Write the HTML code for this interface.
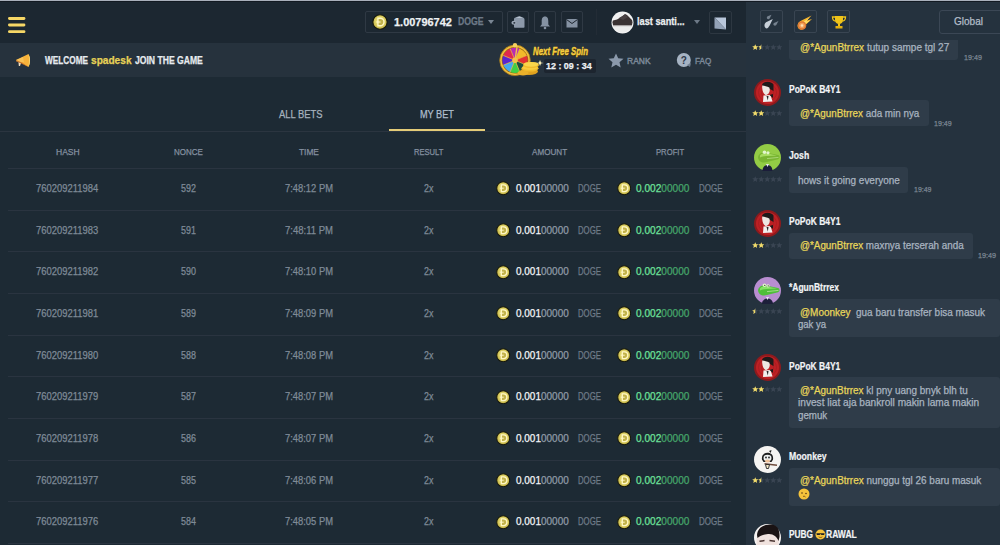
<!DOCTYPE html>
<html><head><meta charset="utf-8">
<style>
*{margin:0;padding:0;box-sizing:border-box}
html,body{width:1000px;height:545px;overflow:hidden;background:#1d2a34;font-family:"Liberation Sans",sans-serif}
.a{position:absolute}
.t{position:absolute;white-space:nowrap;line-height:1;transform-origin:0 0;-webkit-text-stroke-width:0.25px}
</style></head><body>
<div class="a" style="left:0;top:0;width:1000px;height:1px;background:#a9b0bb"></div>
<div class="a" style="left:0;top:1px;width:1000px;height:1px;background:#131a22"></div>
<div class="a" style="left:0;top:2px;width:746px;height:41px;background:#1c2731"></div>
<div class="a" style="left:0;top:43px;width:746px;height:34px;background:#26323d"></div>
<div class="a" style="left:746px;top:2px;width:254px;height:543px;background:#25323e"></div>
<svg class="a" style="left:0;top:0" width="40" height="40" viewBox="0 0 40 40"><rect x="8" y="17" width="17.4" height="2.9" rx="1.4" fill="#f6d766"/><rect x="8" y="23.6" width="17.4" height="2.9" rx="1.4" fill="#f6d766"/><rect x="8" y="30.2" width="17.4" height="2.9" rx="1.4" fill="#f6d766"/></svg>
<div class="a" style="left:365px;top:11px;width:138px;height:22px;border:1px solid #2f3944;border-radius:2px"></div>
<svg class="a" style="left:372.00px;top:14.00px" width="16.00" height="16.00" viewBox="-7 -7 14 14"><defs><radialGradient id="cg" cx="50%" cy="45%" r="55%"><stop offset="0" stop-color="#f1e89e"/><stop offset="0.6" stop-color="#dccf62"/><stop offset="1" stop-color="#bfae40"/></radialGradient></defs><circle r="6.3" fill="url(#cg)" stroke="#17190d" stroke-width="1"/><path d="M-1.8 -3.3 L0.2 -3.3 A3.3 3.3 0 0 1 0.2 3.3 L-1.8 3.3 Z" fill="#c2b24a" stroke="#fff7c4" stroke-width="1.2"/><path d="M-3.3 0 L0.5 0" stroke="#fff7c4" stroke-width="1"/></svg>
<div class="a" style="left:488px;top:20px;width:0;height:0;border-left:3.5px solid transparent;border-right:3.5px solid transparent;border-top:4px solid #7a8694"></div>
<div class="a" style="left:507px;top:11px;width:22px;height:22px;border:1px solid #2f3944;border-radius:2px"></div>
<div class="a" style="left:534px;top:11px;width:22px;height:22px;border:1px solid #2f3944;border-radius:2px"></div>
<div class="a" style="left:561px;top:11px;width:22px;height:22px;border:1px solid #2f3944;border-radius:2px"></div>
<svg class="a" style="left:510px;top:14px" width="16" height="16" viewBox="0 0 16 16"><path d="M4 5 Q4 3.5 5.5 3.5 L8 2.5 Q9 2 10.5 2.5 L13.5 3.8 Q14.5 4.5 14.5 5.5 L14.5 13 Q14.5 13.8 13.7 13.8 L4.8 13.8 Q4 13.8 4 13 Z" fill="#8c98a9"/><path d="M5.5 4 L9.5 2.6 L13 4Z" fill="#b8c3d0"/><ellipse cx="4" cy="8.8" rx="2.6" ry="2" fill="#9aa5b4"/><ellipse cx="4.3" cy="8.8" rx="1.1" ry="0.9" fill="#2a3440"/></svg>
<svg class="a" style="left:537px;top:14px" width="16" height="17" viewBox="0 0 16 17"><path d="M8 2.5 C5.2 2.5 4.7 5 4.7 7.5 L4.7 10.5 L3 12.5 L13 12.5 L11.3 10.5 L11.3 7.5 C11.3 5 10.8 2.5 8 2.5Z" fill="#8592a3"/><circle cx="8" cy="14" r="1.3" fill="#8592a3"/></svg>
<svg class="a" style="left:564px;top:14px" width="16" height="17" viewBox="0 0 16 17"><rect x="2.5" y="5" width="11" height="8.5" fill="#8592a3"/><path d="M2.5 5.5 L8 9.5 L13.5 5.5" stroke="#1e2630" stroke-width="1" fill="none"/></svg>
<div class="a" style="left:596px;top:9px;width:1px;height:26px;background:#232c36"></div>
<svg class="a" style="left:611px;top:10.5px" width="23" height="23" viewBox="0 0 23 23"><defs><clipPath id="hav"><circle cx="11.5" cy="11.5" r="10"/></clipPath></defs><circle cx="11.5" cy="11.5" r="11" fill="#f4f4f4"/><g clip-path="url(#hav)"><rect x="0" y="0" width="23" height="23" fill="#f0f0f0"/><path d="M0 10 L6 8.5 L11 5.5 L14 3 L16 4 L18 6 L21 9 L23 10 L23 14.5 L0 14.5 Z" fill="#3a3233"/><path d="M8 7 L14 3.5 L17 6 L12 9Z" fill="#4a4244"/><rect x="0" y="14.5" width="23" height="1" fill="#b9b4b4"/><rect x="0" y="15.5" width="23" height="8" fill="#ececec"/></g></svg>
<div class="a" style="left:693.5px;top:19.5px;width:0;height:0;border-left:3.5px solid transparent;border-right:3.5px solid transparent;border-top:4px solid #6d7987"></div>
<div class="a" style="left:709px;top:11px;width:23px;height:23px;border:1px solid #2d3741;border-radius:2px"></div>
<svg class="a" style="left:714px;top:16.5px" width="13" height="13" viewBox="0 0 13 13"><path d="M0.5 0.5 L12 0.5 L12 12.5 Z" fill="#b8c6da"/><path d="M0.5 0.5 L12 12.5 L0.5 11.5 Z" fill="#93a2b7"/></svg>
<svg class="a" style="left:15px;top:53px" width="17" height="15" viewBox="0 0 17 15"><path d="M1 7 L13.5 1 Q16.5 7 13.5 14 Z" fill="#f7b23a"/><path d="M13.5 1 Q16.5 7 13.5 14 Q15 7 13.5 1Z" fill="#fde07a"/><path d="M1 7 L8 4 L9 9.5 L1.5 8.5Z" fill="#fbcf6a" opacity="0.6"/><path d="M3.5 9 L6 10 L5 13 L3.8 13Z" fill="#f3e0c0"/><path d="M1 7 L1.5 8.5 L13.5 14 L7 9.5Z" fill="#d9701f" opacity="0.7"/></svg>
<svg class="a" style="left:496px;top:42px" width="50" height="38" viewBox="0 0 50 38">
<circle cx="19" cy="18.3" r="15.3" fill="#f0c040"/><circle cx="19" cy="18.3" r="15.3" fill="none" stroke="#a87a18" stroke-width="0.8"/>
<circle cx="19" cy="18.3" r="13.2" fill="#9a6a10"/>
<path d="M19 18.3 L14.18 6.66 A12.6 12.6 0 0 1 23.82 6.66Z" fill="#b82ab4"/><path d="M19 18.3 L23.82 6.66 A12.6 12.6 0 0 1 30.64 13.48Z" fill="#f2b92a"/><path d="M19 18.3 L30.64 13.48 A12.6 12.6 0 0 1 30.64 23.12Z" fill="#e23232"/><path d="M19 18.3 L30.64 23.12 A12.6 12.6 0 0 1 23.82 29.94Z" fill="#1e4f3f"/><path d="M19 18.3 L23.82 29.94 A12.6 12.6 0 0 1 14.18 29.94Z" fill="#3fcf45"/><path d="M19 18.3 L14.18 29.94 A12.6 12.6 0 0 1 7.36 23.12Z" fill="#42a9ef"/><path d="M19 18.3 L7.36 23.12 A12.6 12.6 0 0 1 7.36 13.48Z" fill="#5a24cf"/><path d="M19 18.3 L7.36 13.48 A12.6 12.6 0 0 1 14.18 6.66Z" fill="#e0284e"/><path d="M19 18.3 L14.18 6.66" stroke="#f0c24a" stroke-width="0.7"/><path d="M19 18.3 L23.82 6.66" stroke="#f0c24a" stroke-width="0.7"/><path d="M19 18.3 L30.64 13.48" stroke="#f0c24a" stroke-width="0.7"/><path d="M19 18.3 L30.64 23.12" stroke="#f0c24a" stroke-width="0.7"/><path d="M19 18.3 L23.82 29.94" stroke="#f0c24a" stroke-width="0.7"/><path d="M19 18.3 L14.18 29.94" stroke="#f0c24a" stroke-width="0.7"/><path d="M19 18.3 L7.36 23.12" stroke="#f0c24a" stroke-width="0.7"/><path d="M19 18.3 L7.36 13.48" stroke="#f0c24a" stroke-width="0.7"/>
<circle cx="19" cy="18.3" r="2.8" fill="#f2c24a"/>
<path d="M19 18.3 L21 5" stroke="#f2c24a" stroke-width="1.4"/>
<circle cx="19" cy="3.3" r="2.2" fill="#f5d060"/>
<ellipse cx="33" cy="29.5" rx="9" ry="3.4" fill="#e0a21e"/>
<ellipse cx="34" cy="26.3" rx="8.5" ry="3.3" fill="#f2bc2c"/><ellipse cx="34" cy="25.6" rx="7.6" ry="2.5" fill="#f9cd3e"/>
<ellipse cx="35" cy="23" rx="8" ry="3.1" fill="#f2bc2c"/><ellipse cx="35" cy="22.3" rx="7.2" ry="2.4" fill="#fbd64a"/>
<ellipse cx="27" cy="31" rx="5.5" ry="2.6" fill="#eab02a"/>
<path d="M44 18 L45 20.5 L47.5 21 L45 21.5 L44 24 L43 21.5 L40.5 21 L43 20.5Z" fill="#fff4b8"/>
</svg>
<div class="a" style="left:544px;top:59px;width:52px;height:14px;background:#1d252f;border-radius:2px"></div>
<svg class="a" style="left:608px;top:53px" width="16" height="15" viewBox="0 0 16 15"><path d="M8 0.5 L10.2 5.3 L15.5 5.8 L11.5 9.3 L12.7 14.5 L8 11.8 L3.3 14.5 L4.5 9.3 L0.5 5.8 L5.8 5.3Z" fill="#8b99ab"/></svg>
<svg class="a" style="left:676px;top:52px" width="16" height="16" viewBox="0 0 16 16"><circle cx="7.8" cy="8" r="7" fill="#a6b3c3"/><path d="M11 13 L15 11 L14 15Z" fill="#6f7d8e"/><text x="7.8" y="11.8" font-family="Liberation Sans" font-weight="bold" font-size="10" text-anchor="middle" fill="#2d3846">?</text></svg>
<div class="a" style="left:0;top:131px;width:746px;height:1px;background:#2b3540"></div>
<div class="a" style="left:389px;top:128.5px;width:96px;height:2.5px;background:#e4cc78"></div>
<div class="a" style="left:8px;top:168px;width:723px;height:1px;background:#2a3440"></div>
<div class="a" style="left:8px;top:209.67px;width:723px;height:1px;background:#2a3440"></div>
<div class="a" style="left:8px;top:251.34px;width:723px;height:1px;background:#2a3440"></div>
<div class="a" style="left:8px;top:293.01px;width:723px;height:1px;background:#2a3440"></div>
<div class="a" style="left:8px;top:334.68px;width:723px;height:1px;background:#2a3440"></div>
<div class="a" style="left:8px;top:376.35px;width:723px;height:1px;background:#2a3440"></div>
<div class="a" style="left:8px;top:418.02px;width:723px;height:1px;background:#2a3440"></div>
<div class="a" style="left:8px;top:459.69px;width:723px;height:1px;background:#2a3440"></div>
<div class="a" style="left:8px;top:501.36px;width:723px;height:1px;background:#2a3440"></div>
<div class="a" style="left:8px;top:543.03px;width:723px;height:1px;background:#2a3440"></div>
<svg class="a" style="left:496.20px;top:181.20px" width="14.40" height="14.40" viewBox="-7 -7 14 14"><defs><radialGradient id="cg" cx="50%" cy="45%" r="55%"><stop offset="0" stop-color="#f1e89e"/><stop offset="0.6" stop-color="#dccf62"/><stop offset="1" stop-color="#bfae40"/></radialGradient></defs><circle r="6.3" fill="url(#cg)" stroke="#17190d" stroke-width="1"/><path d="M-1.8 -3.3 L0.2 -3.3 A3.3 3.3 0 0 1 0.2 3.3 L-1.8 3.3 Z" fill="#c2b24a" stroke="#fff7c4" stroke-width="1.2"/><path d="M-3.3 0 L0.5 0" stroke="#fff7c4" stroke-width="1"/></svg>
<svg class="a" style="left:616.60px;top:181.20px" width="14.40" height="14.40" viewBox="-7 -7 14 14"><defs><radialGradient id="cg" cx="50%" cy="45%" r="55%"><stop offset="0" stop-color="#f1e89e"/><stop offset="0.6" stop-color="#dccf62"/><stop offset="1" stop-color="#bfae40"/></radialGradient></defs><circle r="6.3" fill="url(#cg)" stroke="#17190d" stroke-width="1"/><path d="M-1.8 -3.3 L0.2 -3.3 A3.3 3.3 0 0 1 0.2 3.3 L-1.8 3.3 Z" fill="#c2b24a" stroke="#fff7c4" stroke-width="1.2"/><path d="M-3.3 0 L0.5 0" stroke="#fff7c4" stroke-width="1"/></svg>
<svg class="a" style="left:496.20px;top:222.87px" width="14.40" height="14.40" viewBox="-7 -7 14 14"><defs><radialGradient id="cg" cx="50%" cy="45%" r="55%"><stop offset="0" stop-color="#f1e89e"/><stop offset="0.6" stop-color="#dccf62"/><stop offset="1" stop-color="#bfae40"/></radialGradient></defs><circle r="6.3" fill="url(#cg)" stroke="#17190d" stroke-width="1"/><path d="M-1.8 -3.3 L0.2 -3.3 A3.3 3.3 0 0 1 0.2 3.3 L-1.8 3.3 Z" fill="#c2b24a" stroke="#fff7c4" stroke-width="1.2"/><path d="M-3.3 0 L0.5 0" stroke="#fff7c4" stroke-width="1"/></svg>
<svg class="a" style="left:616.60px;top:222.87px" width="14.40" height="14.40" viewBox="-7 -7 14 14"><defs><radialGradient id="cg" cx="50%" cy="45%" r="55%"><stop offset="0" stop-color="#f1e89e"/><stop offset="0.6" stop-color="#dccf62"/><stop offset="1" stop-color="#bfae40"/></radialGradient></defs><circle r="6.3" fill="url(#cg)" stroke="#17190d" stroke-width="1"/><path d="M-1.8 -3.3 L0.2 -3.3 A3.3 3.3 0 0 1 0.2 3.3 L-1.8 3.3 Z" fill="#c2b24a" stroke="#fff7c4" stroke-width="1.2"/><path d="M-3.3 0 L0.5 0" stroke="#fff7c4" stroke-width="1"/></svg>
<svg class="a" style="left:496.20px;top:264.54px" width="14.40" height="14.40" viewBox="-7 -7 14 14"><defs><radialGradient id="cg" cx="50%" cy="45%" r="55%"><stop offset="0" stop-color="#f1e89e"/><stop offset="0.6" stop-color="#dccf62"/><stop offset="1" stop-color="#bfae40"/></radialGradient></defs><circle r="6.3" fill="url(#cg)" stroke="#17190d" stroke-width="1"/><path d="M-1.8 -3.3 L0.2 -3.3 A3.3 3.3 0 0 1 0.2 3.3 L-1.8 3.3 Z" fill="#c2b24a" stroke="#fff7c4" stroke-width="1.2"/><path d="M-3.3 0 L0.5 0" stroke="#fff7c4" stroke-width="1"/></svg>
<svg class="a" style="left:616.60px;top:264.54px" width="14.40" height="14.40" viewBox="-7 -7 14 14"><defs><radialGradient id="cg" cx="50%" cy="45%" r="55%"><stop offset="0" stop-color="#f1e89e"/><stop offset="0.6" stop-color="#dccf62"/><stop offset="1" stop-color="#bfae40"/></radialGradient></defs><circle r="6.3" fill="url(#cg)" stroke="#17190d" stroke-width="1"/><path d="M-1.8 -3.3 L0.2 -3.3 A3.3 3.3 0 0 1 0.2 3.3 L-1.8 3.3 Z" fill="#c2b24a" stroke="#fff7c4" stroke-width="1.2"/><path d="M-3.3 0 L0.5 0" stroke="#fff7c4" stroke-width="1"/></svg>
<svg class="a" style="left:496.20px;top:306.21px" width="14.40" height="14.40" viewBox="-7 -7 14 14"><defs><radialGradient id="cg" cx="50%" cy="45%" r="55%"><stop offset="0" stop-color="#f1e89e"/><stop offset="0.6" stop-color="#dccf62"/><stop offset="1" stop-color="#bfae40"/></radialGradient></defs><circle r="6.3" fill="url(#cg)" stroke="#17190d" stroke-width="1"/><path d="M-1.8 -3.3 L0.2 -3.3 A3.3 3.3 0 0 1 0.2 3.3 L-1.8 3.3 Z" fill="#c2b24a" stroke="#fff7c4" stroke-width="1.2"/><path d="M-3.3 0 L0.5 0" stroke="#fff7c4" stroke-width="1"/></svg>
<svg class="a" style="left:616.60px;top:306.21px" width="14.40" height="14.40" viewBox="-7 -7 14 14"><defs><radialGradient id="cg" cx="50%" cy="45%" r="55%"><stop offset="0" stop-color="#f1e89e"/><stop offset="0.6" stop-color="#dccf62"/><stop offset="1" stop-color="#bfae40"/></radialGradient></defs><circle r="6.3" fill="url(#cg)" stroke="#17190d" stroke-width="1"/><path d="M-1.8 -3.3 L0.2 -3.3 A3.3 3.3 0 0 1 0.2 3.3 L-1.8 3.3 Z" fill="#c2b24a" stroke="#fff7c4" stroke-width="1.2"/><path d="M-3.3 0 L0.5 0" stroke="#fff7c4" stroke-width="1"/></svg>
<svg class="a" style="left:496.20px;top:347.88px" width="14.40" height="14.40" viewBox="-7 -7 14 14"><defs><radialGradient id="cg" cx="50%" cy="45%" r="55%"><stop offset="0" stop-color="#f1e89e"/><stop offset="0.6" stop-color="#dccf62"/><stop offset="1" stop-color="#bfae40"/></radialGradient></defs><circle r="6.3" fill="url(#cg)" stroke="#17190d" stroke-width="1"/><path d="M-1.8 -3.3 L0.2 -3.3 A3.3 3.3 0 0 1 0.2 3.3 L-1.8 3.3 Z" fill="#c2b24a" stroke="#fff7c4" stroke-width="1.2"/><path d="M-3.3 0 L0.5 0" stroke="#fff7c4" stroke-width="1"/></svg>
<svg class="a" style="left:616.60px;top:347.88px" width="14.40" height="14.40" viewBox="-7 -7 14 14"><defs><radialGradient id="cg" cx="50%" cy="45%" r="55%"><stop offset="0" stop-color="#f1e89e"/><stop offset="0.6" stop-color="#dccf62"/><stop offset="1" stop-color="#bfae40"/></radialGradient></defs><circle r="6.3" fill="url(#cg)" stroke="#17190d" stroke-width="1"/><path d="M-1.8 -3.3 L0.2 -3.3 A3.3 3.3 0 0 1 0.2 3.3 L-1.8 3.3 Z" fill="#c2b24a" stroke="#fff7c4" stroke-width="1.2"/><path d="M-3.3 0 L0.5 0" stroke="#fff7c4" stroke-width="1"/></svg>
<svg class="a" style="left:496.20px;top:389.55px" width="14.40" height="14.40" viewBox="-7 -7 14 14"><defs><radialGradient id="cg" cx="50%" cy="45%" r="55%"><stop offset="0" stop-color="#f1e89e"/><stop offset="0.6" stop-color="#dccf62"/><stop offset="1" stop-color="#bfae40"/></radialGradient></defs><circle r="6.3" fill="url(#cg)" stroke="#17190d" stroke-width="1"/><path d="M-1.8 -3.3 L0.2 -3.3 A3.3 3.3 0 0 1 0.2 3.3 L-1.8 3.3 Z" fill="#c2b24a" stroke="#fff7c4" stroke-width="1.2"/><path d="M-3.3 0 L0.5 0" stroke="#fff7c4" stroke-width="1"/></svg>
<svg class="a" style="left:616.60px;top:389.55px" width="14.40" height="14.40" viewBox="-7 -7 14 14"><defs><radialGradient id="cg" cx="50%" cy="45%" r="55%"><stop offset="0" stop-color="#f1e89e"/><stop offset="0.6" stop-color="#dccf62"/><stop offset="1" stop-color="#bfae40"/></radialGradient></defs><circle r="6.3" fill="url(#cg)" stroke="#17190d" stroke-width="1"/><path d="M-1.8 -3.3 L0.2 -3.3 A3.3 3.3 0 0 1 0.2 3.3 L-1.8 3.3 Z" fill="#c2b24a" stroke="#fff7c4" stroke-width="1.2"/><path d="M-3.3 0 L0.5 0" stroke="#fff7c4" stroke-width="1"/></svg>
<svg class="a" style="left:496.20px;top:431.22px" width="14.40" height="14.40" viewBox="-7 -7 14 14"><defs><radialGradient id="cg" cx="50%" cy="45%" r="55%"><stop offset="0" stop-color="#f1e89e"/><stop offset="0.6" stop-color="#dccf62"/><stop offset="1" stop-color="#bfae40"/></radialGradient></defs><circle r="6.3" fill="url(#cg)" stroke="#17190d" stroke-width="1"/><path d="M-1.8 -3.3 L0.2 -3.3 A3.3 3.3 0 0 1 0.2 3.3 L-1.8 3.3 Z" fill="#c2b24a" stroke="#fff7c4" stroke-width="1.2"/><path d="M-3.3 0 L0.5 0" stroke="#fff7c4" stroke-width="1"/></svg>
<svg class="a" style="left:616.60px;top:431.22px" width="14.40" height="14.40" viewBox="-7 -7 14 14"><defs><radialGradient id="cg" cx="50%" cy="45%" r="55%"><stop offset="0" stop-color="#f1e89e"/><stop offset="0.6" stop-color="#dccf62"/><stop offset="1" stop-color="#bfae40"/></radialGradient></defs><circle r="6.3" fill="url(#cg)" stroke="#17190d" stroke-width="1"/><path d="M-1.8 -3.3 L0.2 -3.3 A3.3 3.3 0 0 1 0.2 3.3 L-1.8 3.3 Z" fill="#c2b24a" stroke="#fff7c4" stroke-width="1.2"/><path d="M-3.3 0 L0.5 0" stroke="#fff7c4" stroke-width="1"/></svg>
<svg class="a" style="left:496.20px;top:472.89px" width="14.40" height="14.40" viewBox="-7 -7 14 14"><defs><radialGradient id="cg" cx="50%" cy="45%" r="55%"><stop offset="0" stop-color="#f1e89e"/><stop offset="0.6" stop-color="#dccf62"/><stop offset="1" stop-color="#bfae40"/></radialGradient></defs><circle r="6.3" fill="url(#cg)" stroke="#17190d" stroke-width="1"/><path d="M-1.8 -3.3 L0.2 -3.3 A3.3 3.3 0 0 1 0.2 3.3 L-1.8 3.3 Z" fill="#c2b24a" stroke="#fff7c4" stroke-width="1.2"/><path d="M-3.3 0 L0.5 0" stroke="#fff7c4" stroke-width="1"/></svg>
<svg class="a" style="left:616.60px;top:472.89px" width="14.40" height="14.40" viewBox="-7 -7 14 14"><defs><radialGradient id="cg" cx="50%" cy="45%" r="55%"><stop offset="0" stop-color="#f1e89e"/><stop offset="0.6" stop-color="#dccf62"/><stop offset="1" stop-color="#bfae40"/></radialGradient></defs><circle r="6.3" fill="url(#cg)" stroke="#17190d" stroke-width="1"/><path d="M-1.8 -3.3 L0.2 -3.3 A3.3 3.3 0 0 1 0.2 3.3 L-1.8 3.3 Z" fill="#c2b24a" stroke="#fff7c4" stroke-width="1.2"/><path d="M-3.3 0 L0.5 0" stroke="#fff7c4" stroke-width="1"/></svg>
<svg class="a" style="left:496.20px;top:514.56px" width="14.40" height="14.40" viewBox="-7 -7 14 14"><defs><radialGradient id="cg" cx="50%" cy="45%" r="55%"><stop offset="0" stop-color="#f1e89e"/><stop offset="0.6" stop-color="#dccf62"/><stop offset="1" stop-color="#bfae40"/></radialGradient></defs><circle r="6.3" fill="url(#cg)" stroke="#17190d" stroke-width="1"/><path d="M-1.8 -3.3 L0.2 -3.3 A3.3 3.3 0 0 1 0.2 3.3 L-1.8 3.3 Z" fill="#c2b24a" stroke="#fff7c4" stroke-width="1.2"/><path d="M-3.3 0 L0.5 0" stroke="#fff7c4" stroke-width="1"/></svg>
<svg class="a" style="left:616.60px;top:514.56px" width="14.40" height="14.40" viewBox="-7 -7 14 14"><defs><radialGradient id="cg" cx="50%" cy="45%" r="55%"><stop offset="0" stop-color="#f1e89e"/><stop offset="0.6" stop-color="#dccf62"/><stop offset="1" stop-color="#bfae40"/></radialGradient></defs><circle r="6.3" fill="url(#cg)" stroke="#17190d" stroke-width="1"/><path d="M-1.8 -3.3 L0.2 -3.3 A3.3 3.3 0 0 1 0.2 3.3 L-1.8 3.3 Z" fill="#c2b24a" stroke="#fff7c4" stroke-width="1.2"/><path d="M-3.3 0 L0.5 0" stroke="#fff7c4" stroke-width="1"/></svg>
<div class="a" style="left:760px;top:10px;width:23px;height:23px;border:1px solid #394552;border-radius:2px"></div>
<div class="a" style="left:794px;top:10px;width:23px;height:23px;border:1px solid #394552;border-radius:2px"></div>
<div class="a" style="left:827px;top:10px;width:23px;height:23px;border:1px solid #394552;border-radius:2px"></div>
<svg class="a" style="left:760px;top:10px" width="23" height="23" viewBox="0 0 23 23"><path d="M5.5 18 C3.8 16.3 4.2 13.8 6 12.3 L12.8 9 L9.5 15.8 C8.2 17.8 7 19.2 5.5 18Z" fill="#c8d0d9"/><path d="M7.2 8.8 C6.5 8 6.8 6.8 7.6 6.2 L11.5 4.8 L9.8 8.3 C9.2 9.2 7.9 9.5 7.2 8.8Z" fill="#76828f"/><path d="M13.8 15.2 C13.1 14.5 13.3 13.5 14 12.9 L18.5 11 L16.3 15 C15.6 15.8 14.5 15.9 13.8 15.2Z" fill="#76828f"/></svg>
<svg class="a" style="left:794px;top:10px" width="23" height="23" viewBox="0 0 23 23"><path d="M5 19 C2.5 16.5 3.5 12.5 6.5 11 L17.5 5.5 L13 10.5 L18 9 L12 14.5 C12 18 8.5 21 5 19Z" fill="#f7b52c"/><path d="M8 13 L15.5 7.5 L12 11.5 L16 10.5 L11 14.5Z" fill="#ffe06a"/><circle cx="8" cy="15.5" r="4.3" fill="#e07a35"/><circle cx="8" cy="15.5" r="2.8" fill="#f3a25a"/><circle cx="8" cy="15.5" r="1.3" fill="#fde3b8"/></svg>
<svg class="a" style="left:831px;top:14px" width="16" height="16" viewBox="0 0 16 16"><path d="M4 2 L12 2 L12 6 C12 8.5 10 10 8 10 C6 10 4 8.5 4 6Z" fill="#f0c419"/><path d="M4 3 L1.5 3 C1.5 6 3 7 4.5 7" stroke="#f0c419" stroke-width="1.3" fill="none"/><path d="M12 3 L14.5 3 C14.5 6 13 7 11.5 7" stroke="#f0c419" stroke-width="1.3" fill="none"/><rect x="7" y="9.5" width="2" height="3" fill="#f0c419"/><rect x="4.5" y="12" width="7" height="2.5" fill="#e5b110"/></svg>
<div class="a" style="left:939px;top:10px;width:70px;height:24px;border:1px solid #3b4755;border-radius:3px"></div>
<div class="a" style="left:789px;top:40px;width:169px;height:20.2px;background:#2f3c49;border-radius:0 0 3px 3px"></div>
<svg class="a" style="left:751.5px;top:44.0px" width="6.5" height="6.5" viewBox="0 0 16 16"><path d="M8 0.5 L10.2 5.3 L15.5 5.8 L11.5 9.3 L12.7 14.5 L8 11.8 L3.3 14.5 L4.5 9.3 L0.5 5.8 L5.8 5.3Z" fill="#f2dc6c"/></svg><svg class="a" style="left:757.7px;top:44.0px" width="6.5" height="6.5" viewBox="0 0 16 16"><path d="M8 0.5 L10.2 5.3 L15.5 5.8 L11.5 9.3 L12.7 14.5 L8 11.8 L3.3 14.5 L4.5 9.3 L0.5 5.8 L5.8 5.3Z" fill="#3a4553"/></svg><svg class="a" style="left:757.7px;top:44.0px" width="6.5" height="6.5" viewBox="0 0 16 16"><path d="M8 0.5 L8 11.8 L3.3 14.5 L4.5 9.3 L0.5 5.8 L5.8 5.3Z" fill="#f2dc6c"/></svg><svg class="a" style="left:763.9px;top:44.0px" width="6.5" height="6.5" viewBox="0 0 16 16"><path d="M8 0.5 L10.2 5.3 L15.5 5.8 L11.5 9.3 L12.7 14.5 L8 11.8 L3.3 14.5 L4.5 9.3 L0.5 5.8 L5.8 5.3Z" fill="#3a4553"/></svg><svg class="a" style="left:770.1px;top:44.0px" width="6.5" height="6.5" viewBox="0 0 16 16"><path d="M8 0.5 L10.2 5.3 L15.5 5.8 L11.5 9.3 L12.7 14.5 L8 11.8 L3.3 14.5 L4.5 9.3 L0.5 5.8 L5.8 5.3Z" fill="#3a4553"/></svg><svg class="a" style="left:776.3px;top:44.0px" width="6.5" height="6.5" viewBox="0 0 16 16"><path d="M8 0.5 L10.2 5.3 L15.5 5.8 L11.5 9.3 L12.7 14.5 L8 11.8 L3.3 14.5 L4.5 9.3 L0.5 5.8 L5.8 5.3Z" fill="#3a4553"/></svg>
<svg class="a" style="left:754px;top:78.8px" width="27" height="27" viewBox="0 0 27 27"><circle cx="13.5" cy="13.5" r="13.5" fill="#8e1a1d"/><circle cx="13.5" cy="13.5" r="11.5" fill="#bd2024"/><circle cx="13.5" cy="13.5" r="9" fill="none" stroke="#a51b1f" stroke-width="0.7"/><circle cx="13.5" cy="13.5" r="6" fill="none" stroke="#a51b1f" stroke-width="0.7"/><path d="M8 6 C9 2 17 1.5 19.5 5.5 L19.5 12 L16 10 L10 8.5 Z" fill="#1f1a1a"/><path d="M8.3 6.5 C7.8 10.5 9 14.5 11.5 16 C14 16 15.8 13.5 15.8 10.5 L15.3 8.5 C13 7.5 10.5 6.5 8.3 6.5Z" fill="#eee7e2"/><path d="M9.5 16.5 L16.5 16 L18.5 22.5 L9 23Z" fill="#f2f0ee"/><path d="M12.5 17 L14.5 17 L13.8 21.5Z" fill="#2a2a2a"/><path d="M15.5 16 L19 15 L19 19Z" fill="#1f1a1a"/></svg>
<div class="a" style="left:789px;top:100.1px;width:139.6px;height:26.3px;background:#2f3c49;border-radius:3px"></div>
<svg class="a" style="left:751.5px;top:110.0px" width="6.5" height="6.5" viewBox="0 0 16 16"><path d="M8 0.5 L10.2 5.3 L15.5 5.8 L11.5 9.3 L12.7 14.5 L8 11.8 L3.3 14.5 L4.5 9.3 L0.5 5.8 L5.8 5.3Z" fill="#f2dc6c"/></svg><svg class="a" style="left:757.7px;top:110.0px" width="6.5" height="6.5" viewBox="0 0 16 16"><path d="M8 0.5 L10.2 5.3 L15.5 5.8 L11.5 9.3 L12.7 14.5 L8 11.8 L3.3 14.5 L4.5 9.3 L0.5 5.8 L5.8 5.3Z" fill="#f2dc6c"/></svg><svg class="a" style="left:763.9px;top:110.0px" width="6.5" height="6.5" viewBox="0 0 16 16"><path d="M8 0.5 L10.2 5.3 L15.5 5.8 L11.5 9.3 L12.7 14.5 L8 11.8 L3.3 14.5 L4.5 9.3 L0.5 5.8 L5.8 5.3Z" fill="#3a4553"/></svg><svg class="a" style="left:770.1px;top:110.0px" width="6.5" height="6.5" viewBox="0 0 16 16"><path d="M8 0.5 L10.2 5.3 L15.5 5.8 L11.5 9.3 L12.7 14.5 L8 11.8 L3.3 14.5 L4.5 9.3 L0.5 5.8 L5.8 5.3Z" fill="#3a4553"/></svg><svg class="a" style="left:776.3px;top:110.0px" width="6.5" height="6.5" viewBox="0 0 16 16"><path d="M8 0.5 L10.2 5.3 L15.5 5.8 L11.5 9.3 L12.7 14.5 L8 11.8 L3.3 14.5 L4.5 9.3 L0.5 5.8 L5.8 5.3Z" fill="#3a4553"/></svg>
<svg class="a" style="left:754px;top:143.8px" width="27" height="27" viewBox="0 0 27 27"><circle cx="13.5" cy="13.5" r="13.5" fill="#93cc45"/><path d="M8.5 27 C8.5 19 18.5 19 18.5 27Z" fill="#1b1d3a"/><path d="M12 20 L15 20 L13.5 23Z" fill="#e6e6f0"/><path d="M4 13.5 C4.5 9.5 8.5 7.5 12 8.5 L24 11 C26 11.6 26 14.6 24 15.2 L13 18 C8.5 19.5 4.5 17.5 4 13.5Z" fill="#79b532"/><path d="M6 11.5 C8 9 11 8.8 13 9.5 L23 11.5 L13 12 C10 12 7.5 12.5 6 13.5Z" fill="#a6dc60"/><circle cx="10.5" cy="8.3" r="1.8" fill="#e2f6cc"/><circle cx="14" cy="8.8" r="1.6" fill="#e2f6cc"/><path d="M13 14.6 L24.5 13.4" stroke="#c8eaa0" stroke-width="0.6"/></svg>
<div class="a" style="left:789px;top:167.0px;width:118.6px;height:25.6px;background:#2f3c49;border-radius:3px"></div>
<svg class="a" style="left:751.5px;top:176.0px" width="6.5" height="6.5" viewBox="0 0 16 16"><path d="M8 0.5 L10.2 5.3 L15.5 5.8 L11.5 9.3 L12.7 14.5 L8 11.8 L3.3 14.5 L4.5 9.3 L0.5 5.8 L5.8 5.3Z" fill="#3a4553"/></svg><svg class="a" style="left:757.7px;top:176.0px" width="6.5" height="6.5" viewBox="0 0 16 16"><path d="M8 0.5 L10.2 5.3 L15.5 5.8 L11.5 9.3 L12.7 14.5 L8 11.8 L3.3 14.5 L4.5 9.3 L0.5 5.8 L5.8 5.3Z" fill="#3a4553"/></svg><svg class="a" style="left:763.9px;top:176.0px" width="6.5" height="6.5" viewBox="0 0 16 16"><path d="M8 0.5 L10.2 5.3 L15.5 5.8 L11.5 9.3 L12.7 14.5 L8 11.8 L3.3 14.5 L4.5 9.3 L0.5 5.8 L5.8 5.3Z" fill="#3a4553"/></svg><svg class="a" style="left:770.1px;top:176.0px" width="6.5" height="6.5" viewBox="0 0 16 16"><path d="M8 0.5 L10.2 5.3 L15.5 5.8 L11.5 9.3 L12.7 14.5 L8 11.8 L3.3 14.5 L4.5 9.3 L0.5 5.8 L5.8 5.3Z" fill="#3a4553"/></svg><svg class="a" style="left:776.3px;top:176.0px" width="6.5" height="6.5" viewBox="0 0 16 16"><path d="M8 0.5 L10.2 5.3 L15.5 5.8 L11.5 9.3 L12.7 14.5 L8 11.8 L3.3 14.5 L4.5 9.3 L0.5 5.8 L5.8 5.3Z" fill="#3a4553"/></svg>
<svg class="a" style="left:754px;top:210.2px" width="27" height="27" viewBox="0 0 27 27"><circle cx="13.5" cy="13.5" r="13.5" fill="#8e1a1d"/><circle cx="13.5" cy="13.5" r="11.5" fill="#bd2024"/><circle cx="13.5" cy="13.5" r="9" fill="none" stroke="#a51b1f" stroke-width="0.7"/><circle cx="13.5" cy="13.5" r="6" fill="none" stroke="#a51b1f" stroke-width="0.7"/><path d="M8 6 C9 2 17 1.5 19.5 5.5 L19.5 12 L16 10 L10 8.5 Z" fill="#1f1a1a"/><path d="M8.3 6.5 C7.8 10.5 9 14.5 11.5 16 C14 16 15.8 13.5 15.8 10.5 L15.3 8.5 C13 7.5 10.5 6.5 8.3 6.5Z" fill="#eee7e2"/><path d="M9.5 16.5 L16.5 16 L18.5 22.5 L9 23Z" fill="#f2f0ee"/><path d="M12.5 17 L14.5 17 L13.8 21.5Z" fill="#2a2a2a"/><path d="M15.5 16 L19 15 L19 19Z" fill="#1f1a1a"/></svg>
<div class="a" style="left:789px;top:232.7px;width:183.6px;height:26.0px;background:#2f3c49;border-radius:3px"></div>
<svg class="a" style="left:751.5px;top:242.0px" width="6.5" height="6.5" viewBox="0 0 16 16"><path d="M8 0.5 L10.2 5.3 L15.5 5.8 L11.5 9.3 L12.7 14.5 L8 11.8 L3.3 14.5 L4.5 9.3 L0.5 5.8 L5.8 5.3Z" fill="#f2dc6c"/></svg><svg class="a" style="left:757.7px;top:242.0px" width="6.5" height="6.5" viewBox="0 0 16 16"><path d="M8 0.5 L10.2 5.3 L15.5 5.8 L11.5 9.3 L12.7 14.5 L8 11.8 L3.3 14.5 L4.5 9.3 L0.5 5.8 L5.8 5.3Z" fill="#f2dc6c"/></svg><svg class="a" style="left:763.9px;top:242.0px" width="6.5" height="6.5" viewBox="0 0 16 16"><path d="M8 0.5 L10.2 5.3 L15.5 5.8 L11.5 9.3 L12.7 14.5 L8 11.8 L3.3 14.5 L4.5 9.3 L0.5 5.8 L5.8 5.3Z" fill="#3a4553"/></svg><svg class="a" style="left:770.1px;top:242.0px" width="6.5" height="6.5" viewBox="0 0 16 16"><path d="M8 0.5 L10.2 5.3 L15.5 5.8 L11.5 9.3 L12.7 14.5 L8 11.8 L3.3 14.5 L4.5 9.3 L0.5 5.8 L5.8 5.3Z" fill="#3a4553"/></svg><svg class="a" style="left:776.3px;top:242.0px" width="6.5" height="6.5" viewBox="0 0 16 16"><path d="M8 0.5 L10.2 5.3 L15.5 5.8 L11.5 9.3 L12.7 14.5 L8 11.8 L3.3 14.5 L4.5 9.3 L0.5 5.8 L5.8 5.3Z" fill="#3a4553"/></svg>
<svg class="a" style="left:754px;top:277px" width="27" height="27" viewBox="0 0 27 27"><circle cx="13.5" cy="13.5" r="13.5" fill="#b88dd0"/><path d="M8 27 C8 19.5 19 19.5 19 27Z" fill="#1d1f3a"/><path d="M12 20 L15 20 L13.5 23Z" fill="#e6e6f0"/><path d="M4 13.5 C4.5 9.5 8.5 7.5 12 8.5 L24 11 C26 11.6 26 14.6 24 15.2 L13 18 C8.5 19.5 4.5 17.5 4 13.5Z" fill="#4fbf3a"/><path d="M6 11.5 C8 9 11 8.8 13 9.5 L23 11.5 L13 12 C10 12 7.5 12.5 6 13.5Z" fill="#86e066"/><circle cx="10.5" cy="8.3" r="1.8" fill="#e2f6cc"/><circle cx="14" cy="8.8" r="1.6" fill="#e2f6cc"/><circle cx="10.8" cy="8.4" r="0.6" fill="#2a3a20"/><circle cx="14.2" cy="8.9" r="0.6" fill="#2a3a20"/><path d="M13 14.6 L24.5 13.4" stroke="#d8f2b8" stroke-width="0.6"/></svg>
<div class="a" style="left:789px;top:298.5px;width:211.0px;height:38.0px;background:#2f3c49;border-radius:3px"></div>
<svg class="a" style="left:751.5px;top:308.0px" width="6.5" height="6.5" viewBox="0 0 16 16"><path d="M8 0.5 L10.2 5.3 L15.5 5.8 L11.5 9.3 L12.7 14.5 L8 11.8 L3.3 14.5 L4.5 9.3 L0.5 5.8 L5.8 5.3Z" fill="#3a4553"/></svg><svg class="a" style="left:751.5px;top:308.0px" width="6.5" height="6.5" viewBox="0 0 16 16"><path d="M8 0.5 L8 11.8 L3.3 14.5 L4.5 9.3 L0.5 5.8 L5.8 5.3Z" fill="#f2dc6c"/></svg><svg class="a" style="left:757.7px;top:308.0px" width="6.5" height="6.5" viewBox="0 0 16 16"><path d="M8 0.5 L10.2 5.3 L15.5 5.8 L11.5 9.3 L12.7 14.5 L8 11.8 L3.3 14.5 L4.5 9.3 L0.5 5.8 L5.8 5.3Z" fill="#3a4553"/></svg><svg class="a" style="left:763.9px;top:308.0px" width="6.5" height="6.5" viewBox="0 0 16 16"><path d="M8 0.5 L10.2 5.3 L15.5 5.8 L11.5 9.3 L12.7 14.5 L8 11.8 L3.3 14.5 L4.5 9.3 L0.5 5.8 L5.8 5.3Z" fill="#3a4553"/></svg><svg class="a" style="left:770.1px;top:308.0px" width="6.5" height="6.5" viewBox="0 0 16 16"><path d="M8 0.5 L10.2 5.3 L15.5 5.8 L11.5 9.3 L12.7 14.5 L8 11.8 L3.3 14.5 L4.5 9.3 L0.5 5.8 L5.8 5.3Z" fill="#3a4553"/></svg><svg class="a" style="left:776.3px;top:308.0px" width="6.5" height="6.5" viewBox="0 0 16 16"><path d="M8 0.5 L10.2 5.3 L15.5 5.8 L11.5 9.3 L12.7 14.5 L8 11.8 L3.3 14.5 L4.5 9.3 L0.5 5.8 L5.8 5.3Z" fill="#3a4553"/></svg>
<svg class="a" style="left:754px;top:353.9px" width="27" height="27" viewBox="0 0 27 27"><circle cx="13.5" cy="13.5" r="13.5" fill="#8e1a1d"/><circle cx="13.5" cy="13.5" r="11.5" fill="#bd2024"/><circle cx="13.5" cy="13.5" r="9" fill="none" stroke="#a51b1f" stroke-width="0.7"/><circle cx="13.5" cy="13.5" r="6" fill="none" stroke="#a51b1f" stroke-width="0.7"/><path d="M8 6 C9 2 17 1.5 19.5 5.5 L19.5 12 L16 10 L10 8.5 Z" fill="#1f1a1a"/><path d="M8.3 6.5 C7.8 10.5 9 14.5 11.5 16 C14 16 15.8 13.5 15.8 10.5 L15.3 8.5 C13 7.5 10.5 6.5 8.3 6.5Z" fill="#eee7e2"/><path d="M9.5 16.5 L16.5 16 L18.5 22.5 L9 23Z" fill="#f2f0ee"/><path d="M12.5 17 L14.5 17 L13.8 21.5Z" fill="#2a2a2a"/><path d="M15.5 16 L19 15 L19 19Z" fill="#1f1a1a"/></svg>
<div class="a" style="left:789px;top:376.7px;width:211.0px;height:51.1px;background:#2f3c49;border-radius:3px"></div>
<svg class="a" style="left:751.5px;top:386.0px" width="6.5" height="6.5" viewBox="0 0 16 16"><path d="M8 0.5 L10.2 5.3 L15.5 5.8 L11.5 9.3 L12.7 14.5 L8 11.8 L3.3 14.5 L4.5 9.3 L0.5 5.8 L5.8 5.3Z" fill="#f2dc6c"/></svg><svg class="a" style="left:757.7px;top:386.0px" width="6.5" height="6.5" viewBox="0 0 16 16"><path d="M8 0.5 L10.2 5.3 L15.5 5.8 L11.5 9.3 L12.7 14.5 L8 11.8 L3.3 14.5 L4.5 9.3 L0.5 5.8 L5.8 5.3Z" fill="#f2dc6c"/></svg><svg class="a" style="left:763.9px;top:386.0px" width="6.5" height="6.5" viewBox="0 0 16 16"><path d="M8 0.5 L10.2 5.3 L15.5 5.8 L11.5 9.3 L12.7 14.5 L8 11.8 L3.3 14.5 L4.5 9.3 L0.5 5.8 L5.8 5.3Z" fill="#3a4553"/></svg><svg class="a" style="left:770.1px;top:386.0px" width="6.5" height="6.5" viewBox="0 0 16 16"><path d="M8 0.5 L10.2 5.3 L15.5 5.8 L11.5 9.3 L12.7 14.5 L8 11.8 L3.3 14.5 L4.5 9.3 L0.5 5.8 L5.8 5.3Z" fill="#3a4553"/></svg><svg class="a" style="left:776.3px;top:386.0px" width="6.5" height="6.5" viewBox="0 0 16 16"><path d="M8 0.5 L10.2 5.3 L15.5 5.8 L11.5 9.3 L12.7 14.5 L8 11.8 L3.3 14.5 L4.5 9.3 L0.5 5.8 L5.8 5.3Z" fill="#3a4553"/></svg>
<svg class="a" style="left:754px;top:445.7px" width="27" height="27" viewBox="0 0 27 27"><circle cx="13.5" cy="13.5" r="13.5" fill="#f5f4f2"/><path d="M8 13.5 C6.5 4.5 20.5 4.5 19 13.5 L17.5 16 L9.5 16Z" fill="#1d1d1d"/><ellipse cx="13.5" cy="12" rx="4" ry="3.3" fill="#eef1f1"/><circle cx="12" cy="11.5" r="0.9" fill="#222"/><circle cx="15" cy="11.5" r="0.9" fill="#222"/><ellipse cx="13.5" cy="15" rx="2.6" ry="1.5" fill="#f0c39a"/><path d="M15 5 L17.5 4 L16.8 7Z" fill="#1d1d1d"/><path d="M10.5 17.8 L23 19.2" stroke="#6e4b3c" stroke-width="1.4"/><path d="M11.5 18.5 L15.5 18.5 L14.5 22.5 L12.5 22.5Z" fill="#f4e8c8" stroke="#222" stroke-width="0.9"/></svg>
<div class="a" style="left:789px;top:467.5px;width:211.0px;height:38.7px;background:#2f3c49;border-radius:3px"></div>
<svg class="a" style="left:751.5px;top:477.0px" width="6.5" height="6.5" viewBox="0 0 16 16"><path d="M8 0.5 L10.2 5.3 L15.5 5.8 L11.5 9.3 L12.7 14.5 L8 11.8 L3.3 14.5 L4.5 9.3 L0.5 5.8 L5.8 5.3Z" fill="#f2dc6c"/></svg><svg class="a" style="left:757.7px;top:477.0px" width="6.5" height="6.5" viewBox="0 0 16 16"><path d="M8 0.5 L10.2 5.3 L15.5 5.8 L11.5 9.3 L12.7 14.5 L8 11.8 L3.3 14.5 L4.5 9.3 L0.5 5.8 L5.8 5.3Z" fill="#3a4553"/></svg><svg class="a" style="left:757.7px;top:477.0px" width="6.5" height="6.5" viewBox="0 0 16 16"><path d="M8 0.5 L8 11.8 L3.3 14.5 L4.5 9.3 L0.5 5.8 L5.8 5.3Z" fill="#f2dc6c"/></svg><svg class="a" style="left:763.9px;top:477.0px" width="6.5" height="6.5" viewBox="0 0 16 16"><path d="M8 0.5 L10.2 5.3 L15.5 5.8 L11.5 9.3 L12.7 14.5 L8 11.8 L3.3 14.5 L4.5 9.3 L0.5 5.8 L5.8 5.3Z" fill="#3a4553"/></svg><svg class="a" style="left:770.1px;top:477.0px" width="6.5" height="6.5" viewBox="0 0 16 16"><path d="M8 0.5 L10.2 5.3 L15.5 5.8 L11.5 9.3 L12.7 14.5 L8 11.8 L3.3 14.5 L4.5 9.3 L0.5 5.8 L5.8 5.3Z" fill="#3a4553"/></svg><svg class="a" style="left:776.3px;top:477.0px" width="6.5" height="6.5" viewBox="0 0 16 16"><path d="M8 0.5 L10.2 5.3 L15.5 5.8 L11.5 9.3 L12.7 14.5 L8 11.8 L3.3 14.5 L4.5 9.3 L0.5 5.8 L5.8 5.3Z" fill="#3a4553"/></svg>
<svg class="a" style="left:798px;top:488px" width="12" height="12" viewBox="0 0 12 12"><circle cx="6" cy="6" r="5.5" fill="#f5c33b"/><circle cx="4" cy="5" r="0.8" fill="#5a3a10"/><circle cx="8" cy="5.5" r="0.8" fill="#5a3a10"/><path d="M5 8.5 C6 8 7 8.3 7.5 9" stroke="#5a3a10" stroke-width="0.8" fill="none"/></svg>
<svg class="a" style="left:754px;top:524.3px" width="27" height="27" viewBox="0 0 27 27"><circle cx="13.5" cy="13.5" r="13.5" fill="#f6f3f2"/><path d="M3 27 L2.5 15 C3 11 7 9.5 13 9.5 C19 9.5 24 11 25 15 L24 27Z" fill="#f0e2de"/><path d="M3 11 C4 2.5 12 -0.5 19 0.8 C23.5 1.8 26 6 25.5 13 L24.5 17 C23 12.5 19 9.5 14 10 C10 10.5 6 11.5 3.5 14Z" fill="#1a1314"/><path d="M5.5 17.2 L10.5 16.6" stroke="#4a3532" stroke-width="1.5"/><path d="M15.5 16.6 L21 17.2" stroke="#4a3532" stroke-width="1.5"/></svg>
<svg class="a" style="left:814.5px;top:529px" width="11" height="11" viewBox="0 0 12 12"><circle cx="6" cy="6" r="5.5" fill="#f5c33b"/><path d="M1.5 4.5 L10.5 4.5 L10 6.5 L7 6.5 L6 5.5 L5 6.5 L2 6.5Z" fill="#222"/><path d="M4 8.5 C5 9.5 7 9.5 8 8.5" stroke="#5a3a10" stroke-width="0.8" fill="none"/></svg>
<div class="t" style="left:394.00px;top:17.00px;font-size:11.5px;color:#eef1f4;font-weight:bold;transform:scaleX(0.953);">1.00796742</div>
<div class="t" style="left:457.70px;top:17.00px;font-size:10px;color:#6c7987;font-weight:bold;transform:scaleX(0.870);">DOGE</div>
<div class="t" style="left:637.20px;top:16.00px;font-size:11.5px;color:#eceff2;font-weight:bold;transform:scaleX(0.800);-webkit-text-stroke:0.25px #eceff2;">last santi...</div>
<div class="t" style="left:44.80px;top:56.00px;font-size:10px;color:#e7ebef;font-weight:bold;transform:scaleX(0.824);">WELCOME</div>
<div class="t" style="left:91.00px;top:55.00px;font-size:11px;color:#e6d156;font-weight:bold;transform:scaleX(0.920);">spadesk</div>
<div class="t" style="left:135.20px;top:56.00px;font-size:10px;color:#e7ebef;font-weight:bold;transform:scaleX(0.860);">JOIN THE GAME</div>
<div class="t" style="left:533.20px;top:46.00px;font-size:11px;color:#f5cd3f;font-weight:bold;font-style:italic;transform:scaleX(0.714);-webkit-text-stroke:0.45px #f5cd3f;text-shadow:0 0.5px 0.8px #3a2a00;">Next Free Spin</div>
<div class="t" style="left:546.40px;top:62.00px;font-size:9px;color:#eef1f4;font-weight:bold;transform:scaleX(0.991);">12 : 09 : 34</div>
<div class="t" style="left:626.80px;top:56.00px;font-size:9.5px;color:#7b8898;transform:scaleX(0.894);-webkit-text-stroke-width:0.45px;">RANK</div>
<div class="t" style="left:695.00px;top:56.00px;font-size:9.5px;color:#7b8898;transform:scaleX(0.854);-webkit-text-stroke-width:0.45px;">FAQ</div>
<div class="t" style="left:279.20px;top:109.00px;font-size:11px;color:#a7b2bd;transform:scaleX(0.855);">ALL BETS</div>
<div class="t" style="left:419.50px;top:109.00px;font-size:11px;color:#afbfcf;transform:scaleX(0.832);">MY BET</div>
<div class="t" style="left:55.90px;top:148.00px;font-size:9.2px;color:#8591a0;transform:scaleX(0.928);">HASH</div>
<div class="t" style="left:173.60px;top:148.00px;font-size:9.2px;color:#8591a0;transform:scaleX(0.865);">NONCE</div>
<div class="t" style="left:298.90px;top:148.00px;font-size:9.2px;color:#8591a0;transform:scaleX(0.908);">TIME</div>
<div class="t" style="left:414.40px;top:148.00px;font-size:9.2px;color:#8591a0;transform:scaleX(0.826);">RESULT</div>
<div class="t" style="left:531.50px;top:148.00px;font-size:9.2px;color:#8591a0;transform:scaleX(0.883);">AMOUNT</div>
<div class="t" style="left:656.20px;top:148.00px;font-size:9.2px;color:#8591a0;transform:scaleX(0.836);">PROFIT</div>
<div class="t" style="left:36.30px;top:183.00px;font-size:10.6px;color:#7f8a97;transform:scaleX(0.890);">760209211984</div>
<div class="t" style="left:180.50px;top:183.00px;font-size:10.6px;color:#7f8a97;transform:scaleX(0.843);">592</div>
<div class="t" style="left:284.70px;top:183.00px;font-size:10.6px;color:#7f8a97;transform:scaleX(0.885);">7:48:12 PM</div>
<div class="t" style="left:424.00px;top:183.00px;font-size:10.6px;color:#7f8a97;transform:scaleX(0.841);">2x</div>
<div class="t" style="left:516.20px;top:183.00px;font-size:10.6px;color:#f3f5f7;transform:scaleX(0.942);">0.001<span style="color:#8f9aa6">00000</span></div>
<div class="t" style="left:577.80px;top:183.00px;font-size:10.6px;color:#6f7b88;transform:scaleX(0.732);">DOGE</div>
<div class="t" style="left:636.30px;top:183.00px;font-size:10.6px;color:#6de29a;transform:scaleX(0.954);">0.002<span style="color:#45a56a">00000</span></div>
<div class="t" style="left:698.50px;top:183.00px;font-size:10.6px;color:#6f7b88;transform:scaleX(0.755);">DOGE</div>
<div class="t" style="left:36.30px;top:225.00px;font-size:10.6px;color:#7f8a97;transform:scaleX(0.890);">760209211983</div>
<div class="t" style="left:180.50px;top:225.00px;font-size:10.6px;color:#7f8a97;transform:scaleX(0.843);">591</div>
<div class="t" style="left:284.70px;top:225.00px;font-size:10.6px;color:#7f8a97;transform:scaleX(0.898);">7:48:11 PM</div>
<div class="t" style="left:424.00px;top:225.00px;font-size:10.6px;color:#7f8a97;transform:scaleX(0.841);">2x</div>
<div class="t" style="left:516.20px;top:225.00px;font-size:10.6px;color:#f3f5f7;transform:scaleX(0.942);">0.001<span style="color:#8f9aa6">00000</span></div>
<div class="t" style="left:577.80px;top:225.00px;font-size:10.6px;color:#6f7b88;transform:scaleX(0.732);">DOGE</div>
<div class="t" style="left:636.30px;top:225.00px;font-size:10.6px;color:#6de29a;transform:scaleX(0.954);">0.002<span style="color:#45a56a">00000</span></div>
<div class="t" style="left:698.50px;top:225.00px;font-size:10.6px;color:#6f7b88;transform:scaleX(0.755);">DOGE</div>
<div class="t" style="left:36.30px;top:266.00px;font-size:10.6px;color:#7f8a97;transform:scaleX(0.890);">760209211982</div>
<div class="t" style="left:180.50px;top:266.00px;font-size:10.6px;color:#7f8a97;transform:scaleX(0.843);">590</div>
<div class="t" style="left:284.70px;top:266.00px;font-size:10.6px;color:#7f8a97;transform:scaleX(0.885);">7:48:10 PM</div>
<div class="t" style="left:424.00px;top:266.00px;font-size:10.6px;color:#7f8a97;transform:scaleX(0.841);">2x</div>
<div class="t" style="left:516.20px;top:266.00px;font-size:10.6px;color:#f3f5f7;transform:scaleX(0.942);">0.001<span style="color:#8f9aa6">00000</span></div>
<div class="t" style="left:577.80px;top:266.00px;font-size:10.6px;color:#6f7b88;transform:scaleX(0.732);">DOGE</div>
<div class="t" style="left:636.30px;top:266.00px;font-size:10.6px;color:#6de29a;transform:scaleX(0.954);">0.002<span style="color:#45a56a">00000</span></div>
<div class="t" style="left:698.50px;top:266.00px;font-size:10.6px;color:#6f7b88;transform:scaleX(0.755);">DOGE</div>
<div class="t" style="left:36.30px;top:308.00px;font-size:10.6px;color:#7f8a97;transform:scaleX(0.890);">760209211981</div>
<div class="t" style="left:180.50px;top:308.00px;font-size:10.6px;color:#7f8a97;transform:scaleX(0.843);">589</div>
<div class="t" style="left:284.70px;top:308.00px;font-size:10.6px;color:#7f8a97;transform:scaleX(0.885);">7:48:09 PM</div>
<div class="t" style="left:424.00px;top:308.00px;font-size:10.6px;color:#7f8a97;transform:scaleX(0.841);">2x</div>
<div class="t" style="left:516.20px;top:308.00px;font-size:10.6px;color:#f3f5f7;transform:scaleX(0.942);">0.001<span style="color:#8f9aa6">00000</span></div>
<div class="t" style="left:577.80px;top:308.00px;font-size:10.6px;color:#6f7b88;transform:scaleX(0.732);">DOGE</div>
<div class="t" style="left:636.30px;top:308.00px;font-size:10.6px;color:#6de29a;transform:scaleX(0.954);">0.002<span style="color:#45a56a">00000</span></div>
<div class="t" style="left:698.50px;top:308.00px;font-size:10.6px;color:#6f7b88;transform:scaleX(0.755);">DOGE</div>
<div class="t" style="left:36.30px;top:350.00px;font-size:10.6px;color:#7f8a97;transform:scaleX(0.890);">760209211980</div>
<div class="t" style="left:180.50px;top:350.00px;font-size:10.6px;color:#7f8a97;transform:scaleX(0.843);">588</div>
<div class="t" style="left:284.70px;top:350.00px;font-size:10.6px;color:#7f8a97;transform:scaleX(0.885);">7:48:08 PM</div>
<div class="t" style="left:424.00px;top:350.00px;font-size:10.6px;color:#7f8a97;transform:scaleX(0.841);">2x</div>
<div class="t" style="left:516.20px;top:350.00px;font-size:10.6px;color:#f3f5f7;transform:scaleX(0.942);">0.001<span style="color:#8f9aa6">00000</span></div>
<div class="t" style="left:577.80px;top:350.00px;font-size:10.6px;color:#6f7b88;transform:scaleX(0.732);">DOGE</div>
<div class="t" style="left:636.30px;top:350.00px;font-size:10.6px;color:#6de29a;transform:scaleX(0.954);">0.002<span style="color:#45a56a">00000</span></div>
<div class="t" style="left:698.50px;top:350.00px;font-size:10.6px;color:#6f7b88;transform:scaleX(0.755);">DOGE</div>
<div class="t" style="left:36.30px;top:391.00px;font-size:10.6px;color:#7f8a97;transform:scaleX(0.890);">760209211979</div>
<div class="t" style="left:180.50px;top:391.00px;font-size:10.6px;color:#7f8a97;transform:scaleX(0.843);">587</div>
<div class="t" style="left:284.70px;top:391.00px;font-size:10.6px;color:#7f8a97;transform:scaleX(0.885);">7:48:07 PM</div>
<div class="t" style="left:424.00px;top:391.00px;font-size:10.6px;color:#7f8a97;transform:scaleX(0.841);">2x</div>
<div class="t" style="left:516.20px;top:391.00px;font-size:10.6px;color:#f3f5f7;transform:scaleX(0.942);">0.001<span style="color:#8f9aa6">00000</span></div>
<div class="t" style="left:577.80px;top:391.00px;font-size:10.6px;color:#6f7b88;transform:scaleX(0.732);">DOGE</div>
<div class="t" style="left:636.30px;top:391.00px;font-size:10.6px;color:#6de29a;transform:scaleX(0.954);">0.002<span style="color:#45a56a">00000</span></div>
<div class="t" style="left:698.50px;top:391.00px;font-size:10.6px;color:#6f7b88;transform:scaleX(0.755);">DOGE</div>
<div class="t" style="left:36.30px;top:433.00px;font-size:10.6px;color:#7f8a97;transform:scaleX(0.890);">760209211978</div>
<div class="t" style="left:180.50px;top:433.00px;font-size:10.6px;color:#7f8a97;transform:scaleX(0.843);">586</div>
<div class="t" style="left:284.70px;top:433.00px;font-size:10.6px;color:#7f8a97;transform:scaleX(0.885);">7:48:07 PM</div>
<div class="t" style="left:424.00px;top:433.00px;font-size:10.6px;color:#7f8a97;transform:scaleX(0.841);">2x</div>
<div class="t" style="left:516.20px;top:433.00px;font-size:10.6px;color:#f3f5f7;transform:scaleX(0.942);">0.001<span style="color:#8f9aa6">00000</span></div>
<div class="t" style="left:577.80px;top:433.00px;font-size:10.6px;color:#6f7b88;transform:scaleX(0.732);">DOGE</div>
<div class="t" style="left:636.30px;top:433.00px;font-size:10.6px;color:#6de29a;transform:scaleX(0.954);">0.002<span style="color:#45a56a">00000</span></div>
<div class="t" style="left:698.50px;top:433.00px;font-size:10.6px;color:#6f7b88;transform:scaleX(0.755);">DOGE</div>
<div class="t" style="left:36.30px;top:475.00px;font-size:10.6px;color:#7f8a97;transform:scaleX(0.890);">760209211977</div>
<div class="t" style="left:180.50px;top:475.00px;font-size:10.6px;color:#7f8a97;transform:scaleX(0.843);">585</div>
<div class="t" style="left:284.70px;top:475.00px;font-size:10.6px;color:#7f8a97;transform:scaleX(0.885);">7:48:06 PM</div>
<div class="t" style="left:424.00px;top:475.00px;font-size:10.6px;color:#7f8a97;transform:scaleX(0.841);">2x</div>
<div class="t" style="left:516.20px;top:475.00px;font-size:10.6px;color:#f3f5f7;transform:scaleX(0.942);">0.001<span style="color:#8f9aa6">00000</span></div>
<div class="t" style="left:577.80px;top:475.00px;font-size:10.6px;color:#6f7b88;transform:scaleX(0.732);">DOGE</div>
<div class="t" style="left:636.30px;top:475.00px;font-size:10.6px;color:#6de29a;transform:scaleX(0.954);">0.002<span style="color:#45a56a">00000</span></div>
<div class="t" style="left:698.50px;top:475.00px;font-size:10.6px;color:#6f7b88;transform:scaleX(0.755);">DOGE</div>
<div class="t" style="left:36.30px;top:516.00px;font-size:10.6px;color:#7f8a97;transform:scaleX(0.890);">760209211976</div>
<div class="t" style="left:180.50px;top:516.00px;font-size:10.6px;color:#7f8a97;transform:scaleX(0.843);">584</div>
<div class="t" style="left:284.70px;top:516.00px;font-size:10.6px;color:#7f8a97;transform:scaleX(0.885);">7:48:05 PM</div>
<div class="t" style="left:424.00px;top:516.00px;font-size:10.6px;color:#7f8a97;transform:scaleX(0.841);">2x</div>
<div class="t" style="left:516.20px;top:516.00px;font-size:10.6px;color:#f3f5f7;transform:scaleX(0.942);">0.001<span style="color:#8f9aa6">00000</span></div>
<div class="t" style="left:577.80px;top:516.00px;font-size:10.6px;color:#6f7b88;transform:scaleX(0.732);">DOGE</div>
<div class="t" style="left:636.30px;top:516.00px;font-size:10.6px;color:#6de29a;transform:scaleX(0.954);">0.002<span style="color:#45a56a">00000</span></div>
<div class="t" style="left:698.50px;top:516.00px;font-size:10.6px;color:#6f7b88;transform:scaleX(0.755);">DOGE</div>
<div class="t" style="left:953.60px;top:16.00px;font-size:10.6px;color:#b3bdc8;transform:scaleX(0.945);">Global</div>
<div class="t" style="left:800.00px;top:43.00px;font-size:10.2px;color:#a9b4c0;transform:scaleX(0.982);"><span style="color:#e9d75a">@*AgunBtrrex</span> tutup sampe tgl 27</div>
<div class="t" style="left:963.50px;top:54.00px;font-size:8.1px;color:#7b8692;transform:scaleX(0.882);">19:49</div>
<div class="t" style="left:788.90px;top:85.00px;font-size:10px;color:#f2f4f6;font-weight:bold;transform:scaleX(0.849);-webkit-text-stroke:0.2px #f2f4f6;">PoPoK B4Y1</div>
<div class="t" style="left:799.90px;top:109.00px;font-size:10.2px;color:#a9b4c0;transform:scaleX(0.965);"><span style="color:#e9d75a">@*AgunBtrrex</span> ada min nya</div>
<div class="t" style="left:933.50px;top:120.00px;font-size:8.1px;color:#7b8692;transform:scaleX(0.877);">19:49</div>
<div class="t" style="left:788.90px;top:151.00px;font-size:10px;color:#f2f4f6;font-weight:bold;transform:scaleX(0.865);-webkit-text-stroke:0.2px #f2f4f6;">Josh</div>
<div class="t" style="left:797.60px;top:176.00px;font-size:10.2px;color:#a9b4c0;transform:scaleX(0.977);">hows it going everyone</div>
<div class="t" style="left:914.20px;top:186.00px;font-size:8.1px;color:#7b8692;transform:scaleX(0.863);">19:49</div>
<div class="t" style="left:788.90px;top:217.00px;font-size:10px;color:#f2f4f6;font-weight:bold;transform:scaleX(0.849);-webkit-text-stroke:0.2px #f2f4f6;">PoPoK B4Y1</div>
<div class="t" style="left:799.90px;top:241.00px;font-size:10.2px;color:#a9b4c0;transform:scaleX(0.966);"><span style="color:#e9d75a">@*AgunBtrrex</span> maxnya terserah anda</div>
<div class="t" style="left:978.40px;top:252.00px;font-size:8.1px;color:#7b8692;transform:scaleX(0.896);">19:49</div>
<div class="t" style="left:788.90px;top:283.00px;font-size:10px;color:#f2f4f6;font-weight:bold;transform:scaleX(0.848);-webkit-text-stroke:0.2px #f2f4f6;">*AgunBtrrex</div>
<div class="t" style="left:799.60px;top:308.00px;font-size:10.2px;color:#a9b4c0;transform:scaleX(0.977);"><span style="color:#e9d75a">@Moonkey</span>&nbsp; gua baru transfer bisa masuk</div>
<div class="t" style="left:797.50px;top:320.00px;font-size:10.2px;color:#a9b4c0;transform:scaleX(0.936);">gak ya</div>
<div class="t" style="left:788.90px;top:362.00px;font-size:10px;color:#f2f4f6;font-weight:bold;transform:scaleX(0.846);-webkit-text-stroke:0.2px #f2f4f6;">PoPoK B4Y1</div>
<div class="t" style="left:799.60px;top:386.00px;font-size:10.2px;color:#a9b4c0;transform:scaleX(0.974);"><span style="color:#e9d75a">@*AgunBtrrex</span> kl pny uang bnyk blh tu</div>
<div class="t" style="left:797.50px;top:398.00px;font-size:10.2px;color:#a9b4c0;transform:scaleX(0.994);">invest liat aja bankroll makin lama makin</div>
<div class="t" style="left:797.50px;top:411.00px;font-size:10.2px;color:#a9b4c0;transform:scaleX(0.956);">gemuk</div>
<div class="t" style="left:788.90px;top:452.00px;font-size:10px;color:#f2f4f6;font-weight:bold;transform:scaleX(0.868);-webkit-text-stroke:0.2px #f2f4f6;">Moonkey</div>
<div class="t" style="left:799.60px;top:476.00px;font-size:10.2px;color:#a9b4c0;transform:scaleX(0.975);"><span style="color:#e9d75a">@*AgunBtrrex</span> nunggu tgl 26 baru masuk</div>
<div class="t" style="left:788.90px;top:530.00px;font-size:10px;color:#f2f4f6;font-weight:bold;transform:scaleX(0.828);-webkit-text-stroke:0.2px #f2f4f6;">PUBG</div>
<div class="t" style="left:825.90px;top:530.00px;font-size:10px;color:#f2f4f6;font-weight:bold;transform:scaleX(0.853);-webkit-text-stroke:0.2px #f2f4f6;">RAWAL</div>
</body></html>
